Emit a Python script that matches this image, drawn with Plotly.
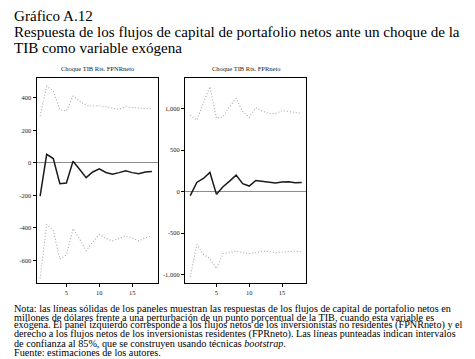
import plotly.graph_objects as go

periods = list(range(1, 19))

fpnr_resp = [-205, 53, 27, -128, -124, 10, -39, -91, -56, -37, -59, -70, -60, -49, -60, -67, -56, -53]
fpnr_upper = [288, 473, 442, 329, 319, 411, 380, 354, 350, 352, 345, 337, 330, 345, 342, 336, 335, 332]
fpnr_lower = [-712, -379, -415, -593, -567, -405, -468, -541, -488, -441, -466, -480, -466, -452, -462, -480, -462, -450]

fpr_resp = [-48, 112, 160, 232, -32, 60, 128, 200, 96, 68, 136, 128, 112, 104, 116, 120, 108, 112]
fpr_upper = [923, 863, 1070, 1265, 883, 904, 1024, 1124, 964, 895, 1012, 971, 943, 940, 977, 970, 955, 943]
fpr_lower = [-1030, -635, -754, -805, -925, -745, -735, -714, -734, -745, -735, -714, -722, -735, -727, -720, -714, -722]

left_ticks = [-600, -400, -200, 0, 200, 400]
left_ticklabels = ["-600", "-400", "-200", "0", "200", "400"]
right_ticks = [-1000, -500, 0, 500, 1000]
right_ticklabels = ["-1,000", "-500", "0", "500", "1,000"]
x_ticks = [5, 10, 15]

panel_titles = ["Choque TIB Rts. FPNRneto", "Choque TIB Rts. FPRneto"]
title_lines = ["Gráfico A.12",
               "Respuesta de los flujos de capital de portafolio netos ante un choque de la",
               "TIB como variable exógena"]
note_lines = [
    "Nota: las líneas sólidas de los paneles muestran las respuestas de los flujos de capital de portafolio netos en",
    "millones de dólares frente a una perturbación de un punto porcentual de la TIB, cuando esta variable es",
    "exógena. El panel izquierdo corresponde a los flujos netos de los inversionistas no residentes (FPNRneto) y el",
    "derecho a los flujos netos de los inversionistas residentes (FPRneto). Las líneas punteadas indican intervalos",
    "de confianza al 85%, que se construyen usando técnicas <i>bootstrap</i>.",
    "Fuente: estimaciones de los autores.",
]

W, H = 475, 359
SERIF = "Liberation Serif"

fig = go.Figure()

def add_panel(xa, ya, resp, up, lo):
    for s in (up, lo):
        fig.add_trace(go.Scatter(x=periods, y=s, mode="lines", xaxis=xa, yaxis=ya,
                                 line=dict(color="#a8a8a8", width=1.1, dash="1px,2px"),
                                 showlegend=False, hoverinfo="skip"))
    fig.add_trace(go.Scatter(x=periods, y=resp, mode="lines", xaxis=xa, yaxis=ya,
                             line=dict(color="#1a1a1a", width=1.5),
                             showlegend=False, hoverinfo="skip"))

add_panel("x", "y", fpnr_resp, fpnr_upper, fpnr_lower)
add_panel("x2", "y2", fpr_resp, fpr_upper, fpr_lower)

ydom = [1 - 275 / H, 1 - 70 / H]
axis_common = dict(showline=True, mirror=True, linecolor="black", linewidth=1,
                   ticks="outside", ticklen=3, tickwidth=1, tickcolor="black",
                   showgrid=False, tickfont=dict(family=SERIF, size=6.5, color="#222"))

fig.update_layout(
    width=W, height=H, margin=dict(l=0, r=0, t=0, b=0),
    paper_bgcolor="white", plot_bgcolor="white",
    font=dict(family=SERIF),
    xaxis=dict(domain=[28.5 / W, 149.5 / W], range=[0.45, 18.85], tickvals=x_ticks,
               zeroline=False, **axis_common),
    yaxis=dict(domain=ydom, range=[-740, 523], tickvals=left_ticks, ticktext=left_ticklabels,
               zeroline=True, zerolinecolor="#8c8c8c", zerolinewidth=1.2, **axis_common),
    xaxis2=dict(domain=[177 / W, 298.3 / W], range=[0.2, 18.7], tickvals=x_ticks,
                zeroline=False, anchor="y2", **axis_common),
    yaxis2=dict(domain=ydom, range=[-1100, 1370], tickvals=right_ticks, ticktext=right_ticklabels,
                zeroline=True, zerolinecolor="#8c8c8c", zerolinewidth=1.2, anchor="x2", **axis_common),
)

ann = []
for t, xc in zip(panel_titles, [89, 238]):
    ann.append(dict(text=t, x=xc / W, y=1 - 60 / H, xref="paper", yref="paper",
                    xanchor="center", yanchor="middle", showarrow=False,
                    font=dict(family=SERIF, size=6.5, color="#222")))

for t, yb in zip(title_lines, [13.5, 29.5, 45.5]):
    ann.append(dict(text=t, x=4 / W, y=1 - (yb + 4) / H, xref="paper", yref="paper",
                    xanchor="left", yanchor="bottom", showarrow=False,
                    font=dict(family=SERIF, size=15.1, color="black")))

for t, yb in zip(note_lines, [305, 314, 322.7, 331.5, 340.3, 349]):
    ann.append(dict(text=t, x=4 / W, y=1 - (yb + 2.5) / H, xref="paper", yref="paper",
                    xanchor="left", yanchor="bottom", showarrow=False,
                    font=dict(family=SERIF, size=10.2, color="black")))

fig.update_layout(annotations=ann)
fig.write_html("out.html")
